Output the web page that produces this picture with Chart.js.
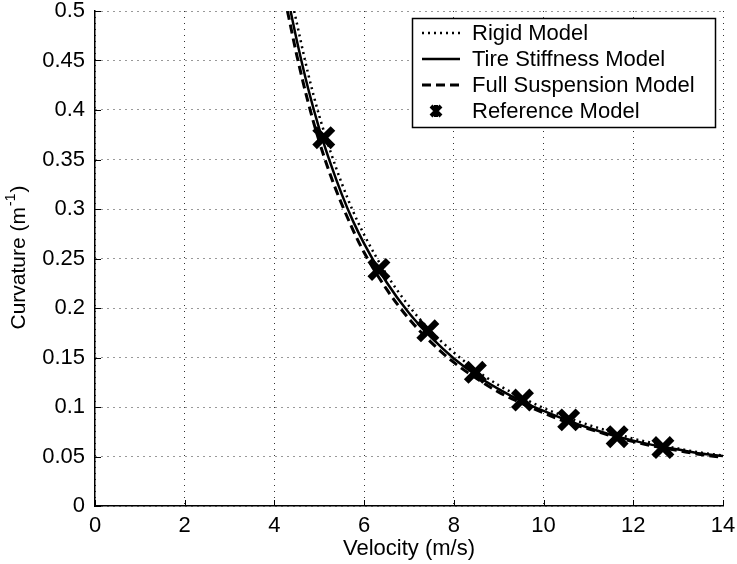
<!DOCTYPE html>
<html>
<head>
<meta charset="utf-8">
<script src="https://cdn.jsdelivr.net/npm/chart.js@4.4.0/dist/chart.umd.min.js"></script>
<style>
  html, body { margin: 0; padding: 0; background: #fff; }
  #curv { display: block; }
</style>
</head>
<body>
<canvas id="curv" width="737" height="564"></canvas>
<script>
// velocity (m/s) vs curvature (1/m) for each vehicle model
const rigidV = [4.44, 4.75, 5.0, 5.25, 5.5, 5.75, 6.0, 6.5, 7.0, 7.5, 8.0, 8.5, 9.0, 9.5, 10, 10.5, 11, 11.5, 12, 12.5, 13, 13.5, 14];
const rigidK = [0.5, 0.437, 0.394, 0.358, 0.326, 0.298, 0.274, 0.234, 0.202, 0.176, 0.155, 0.137, 0.122, 0.110, 0.099, 0.090, 0.082, 0.075, 0.068, 0.063, 0.058, 0.054, 0.051];

const tireV = [4.36, 4.5, 4.75, 5.0, 5.25, 5.5, 5.75, 6.0, 6.5, 7.0, 7.5, 8.0, 8.5, 9.0, 9.5, 10, 10.5, 11, 11.5, 12, 12.5, 13, 13.5, 14];
const tireK = [0.5, 0.470, 0.422, 0.381, 0.346, 0.315, 0.288, 0.265, 0.226, 0.195, 0.170, 0.149, 0.132, 0.118, 0.106, 0.096, 0.087, 0.079, 0.072, 0.066, 0.061, 0.057, 0.053, 0.0505];

const fullV = [4.29, 4.5, 4.75, 5.0, 5.25, 5.5, 5.75, 6.0, 6.5, 7.0, 7.5, 8.0, 8.5, 9.0, 9.5, 10, 10.5, 11, 11.5, 12, 12.5, 13, 13.5, 14];
const fullK = [0.5, 0.455, 0.408, 0.368, 0.334, 0.305, 0.279, 0.256, 0.219, 0.189, 0.165, 0.145, 0.129, 0.115, 0.104, 0.094, 0.085, 0.078, 0.071, 0.065, 0.060, 0.056, 0.052, 0.049];

const refV = [5.1, 6.33, 7.42, 8.48, 9.53, 10.56, 11.64, 12.66];
const refK = [0.372, 0.239, 0.177, 0.135, 0.107, 0.087, 0.070, 0.059];

const seriesNames = ['Rigid Model', 'Tire Stiffness Model', 'Full Suspension Model', 'Reference Model'];
const xTitle = 'Velocity (m/s)';
const yTitle = 'Curvature (m';

const FONT = "'Liberation Sans', Arial, Helvetica, sans-serif";

function pts(xs, ys) {
    return xs.map((v, i) => ({x: v, y: ys[i]}));
}

function tickText(v) {
    return String(Number(v.toFixed(2)));
}

// inward ticks, tick labels, axis titles and the boxed legend
// (labels drawn here so they don't push the plot area around)
const decor = {
    id: 'decor',
    beforeDatasetsDraw(chart) {
        const {ctx, chartArea: a, scales: {x, y}} = chart;
        ctx.save();
        ctx.strokeStyle = '#000';
        ctx.lineWidth = 1;
        ctx.beginPath();
        x.ticks.forEach(t => {
            const px = Math.round(x.getPixelForValue(t.value)) + 0.5;
            ctx.moveTo(px, a.bottom);
            ctx.lineTo(px, a.bottom - 6);
        });
        y.ticks.forEach(t => {
            const py = Math.round(y.getPixelForValue(t.value)) + 0.5;
            ctx.moveTo(a.left, py);
            ctx.lineTo(a.left + 6, py);
        });
        ctx.stroke();

        ctx.fillStyle = '#000';
        ctx.font = '22px ' + FONT;
        ctx.textAlign = 'center';
        ctx.textBaseline = 'middle';
        x.ticks.forEach(t => {
            ctx.fillText(tickText(t.value), x.getPixelForValue(t.value), a.bottom + 20);
        });
        ctx.textAlign = 'right';
        y.ticks.forEach(t => {
            ctx.fillText(tickText(t.value), a.left - 10, y.getPixelForValue(t.value));
        });
        ctx.restore();
    },
    afterDraw(chart) {
        const {ctx, chartArea: a} = chart;
        ctx.save();
        ctx.fillStyle = '#000';

        // x title
        ctx.font = '22px ' + FONT;
        ctx.textAlign = 'center';
        ctx.textBaseline = 'middle';
        ctx.fillText(xTitle, (a.left + a.right) / 2, 549);

        // y title with superscript -1
        ctx.translate(19, (a.top + a.bottom) / 2);
        ctx.rotate(-Math.PI / 2);
        ctx.textAlign = 'left';
        ctx.font = '21px ' + FONT;
        const w1 = ctx.measureText(yTitle).width;
        const w3 = ctx.measureText(')').width;
        ctx.font = '14px ' + FONT;
        const w2 = ctx.measureText('-1').width;
        let x0 = -(w1 + w2 + w3) / 2;
        ctx.font = '21px ' + FONT;
        ctx.fillText(yTitle, x0, 0);
        ctx.font = '14px ' + FONT;
        ctx.fillText('-1', x0 + w1 + 1, -8);
        ctx.font = '21px ' + FONT;
        ctx.fillText(')', x0 + w1 + w2 + 2, 0);
        ctx.restore();

        // legend
        const box = {l: 412, t: 18, r: 715, b: 127};
        ctx.save();
        ctx.fillStyle = '#fff';
        ctx.fillRect(box.l, box.t, box.r - box.l, box.b - box.t);
        ctx.strokeStyle = '#000';
        ctx.lineWidth = 1.5;
        ctx.strokeRect(box.l + 0.5, box.t + 0.5, box.r - box.l, box.b - box.t);
        const rows = [33, 59, 85, 111];
        chart.data.datasets.forEach((ds, i) => {
            const yy = rows[i];
            ctx.strokeStyle = '#000';
            if (ds.showLine) {
                ctx.lineWidth = ds.borderWidth;
                ctx.setLineDash(ds.borderDash || []);
                ctx.beginPath();
                ctx.moveTo(422, yy);
                ctx.lineTo(460, yy);
                ctx.stroke();
                ctx.setLineDash([]);
            } else {
                ctx.lineWidth = 4;
                ctx.beginPath();
                ctx.moveTo(431, yy - 5); ctx.lineTo(441, yy + 5);
                ctx.moveTo(441, yy - 5); ctx.lineTo(431, yy + 5);
                ctx.moveTo(436, yy - 6); ctx.lineTo(436, yy + 6);
                ctx.stroke();
            }
            ctx.fillStyle = '#000';
            ctx.font = '22px ' + FONT;
            ctx.textAlign = 'left';
            ctx.textBaseline = 'middle';
            ctx.fillText(seriesNames[i], 472, yy + 1);
        });
        ctx.restore();
    }
};

const gridOpts = {color: '#333', lineWidth: 1, drawTicks: false};

new Chart(document.getElementById('curv'), {
    type: 'scatter',
    data: {
        datasets: [
            {label: seriesNames[0], data: pts(rigidV, rigidK), showLine: true, borderColor: '#000', borderWidth: 2.5,
             borderDash: [2, 4], pointRadius: 0, cubicInterpolationMode: 'monotone'},
            {label: seriesNames[1], data: pts(tireV, tireK), showLine: true, borderColor: '#000', borderWidth: 2.5,
             pointRadius: 0, cubicInterpolationMode: 'monotone'},
            {label: seriesNames[2], data: pts(fullV, fullK), showLine: true, borderColor: '#000', borderWidth: 3,
             borderDash: [9, 5], pointRadius: 0, cubicInterpolationMode: 'monotone'},
            {label: seriesNames[3], data: pts(refV, refK), showLine: false, borderColor: '#000', backgroundColor: '#000',
             pointStyle: 'crossRot', pointRadius: 13, borderWidth: 6.5}
        ]
    },
    options: {
        responsive: false,
        animation: false,
        layout: {autoPadding: false, padding: {top: 11, right: 14, left: 0, bottom: 0}},
        plugins: {legend: {display: false}, tooltip: {enabled: false}},
        scales: {
            x: {
                type: 'linear', min: 0, max: 14,
                ticks: {stepSize: 2, display: false},
                grid: gridOpts,
                border: {display: true, color: '#000', width: 1.5, dash: [1, 5]},
                afterFit(s) { s.height = 58; }
            },
            y: {
                type: 'linear', min: 0, max: 0.5,
                ticks: {stepSize: 0.05, display: false},
                grid: gridOpts,
                border: {display: true, color: '#000', width: 1.5, dash: [1, 5]},
                afterFit(s) { s.width = 95; }
            }
        }
    },
    plugins: [decor]
});
</script>
</body>
</html>
